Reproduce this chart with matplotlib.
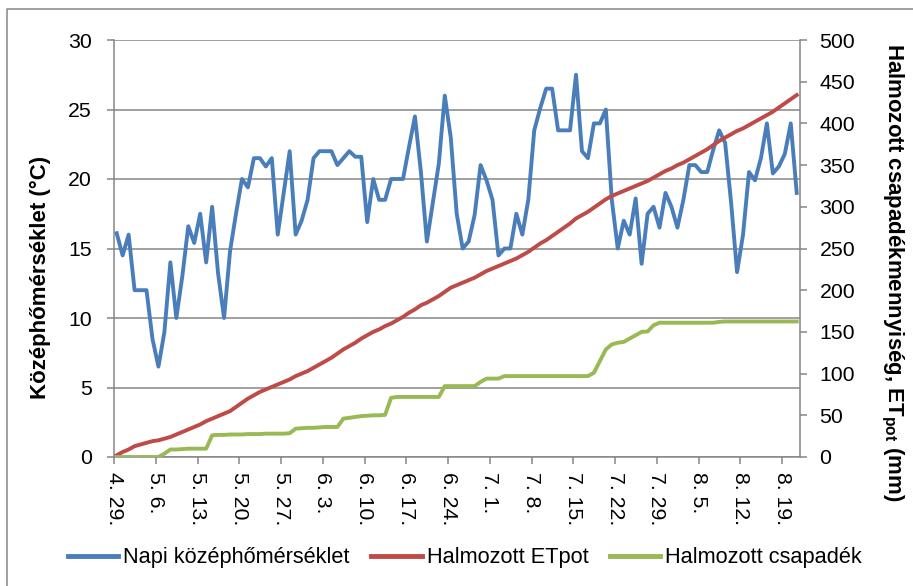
import numpy as np
import matplotlib
matplotlib.use("Agg")
import matplotlib.pyplot as plt
from matplotlib.lines import Line2D

plt.rcParams["font.family"] = ["Liberation Sans", "DejaVu Sans"]
plt.rcParams["mathtext.fontset"] = "custom"
plt.rcParams["mathtext.rm"] = "Liberation Sans"
plt.rcParams["mathtext.bf"] = "Liberation Sans:bold"

# napi adatok, 4.29-tol kezdve
napi_homerseklet = [
    16.1, 14.5, 16.0, 12.0, 12.0, 12.0, 8.5, 6.5, 9.0, 14.0,
    10.0, 13.0, 16.6, 15.4, 17.5, 14.0, 18.0, 13.2, 10.0, 14.8,
    17.5, 20.0, 19.4, 21.5, 21.5, 20.9, 21.5, 16.0, 19.0, 22.0,
    16.0, 17.0, 18.5, 21.5, 22.0, 22.0, 22.0, 21.0, 21.5, 22.0,
    21.6, 21.6, 16.9, 20.0, 18.5, 18.5, 20.0, 20.0, 20.0, 22.3,
    24.5, 20.5, 15.5, 18.3, 21.1, 26.0, 23.0, 17.5, 15.0, 15.5,
    17.4, 21.0, 19.9, 18.5, 14.5, 15.0, 15.0, 17.5, 16.0, 18.5,
    23.5, 25.1, 26.5, 26.5, 23.5, 23.5, 23.5, 27.5, 22.0, 21.5,
    24.0, 24.0, 25.0, 18.5, 15.0, 17.0, 16.0, 18.6, 13.9, 17.5,
    18.0, 16.5, 19.0, 18.0, 16.5, 18.5, 21.0, 21.0, 20.5, 20.5,
    22.1, 23.5, 22.6, 18.3, 13.3, 16.0, 20.5, 19.9, 21.5, 24.0,
    20.4, 20.9, 21.8, 24.0, 19.0,
]

halmozott_etpot = [
    2, 6, 9, 13, 15, 17, 19, 20, 22, 24,
    27, 30, 33, 36, 39, 43, 46, 49, 52, 55,
    60, 65, 70, 74, 78, 81, 84, 87, 90, 93,
    97, 100, 103, 107, 111, 115, 119, 124, 129, 133,
    137, 142, 146, 150, 153, 157, 160, 164, 168, 173,
    177, 182, 185, 189, 193, 198, 203, 206, 209, 212,
    215, 219, 223, 226, 229, 232, 235, 238, 242, 246,
    251, 256, 260, 265, 270, 275, 280, 286, 290, 294,
    299, 304, 309, 313, 316, 319, 322, 325, 328, 331,
    335, 339, 343, 346, 350, 353, 357, 361, 365, 369,
    374, 379, 383, 387, 391, 394, 398, 402, 406, 410,
    414, 419, 424, 429, 434,
]

halmozott_csapadek = [
    0, 0, 0, 0, 0, 0, 0, 0, 4, 9,
    9, 9.5, 10, 10, 10, 10, 26, 26.5, 26.5, 27,
    27, 27, 27.5, 27.5, 27.5, 28, 28, 28, 28, 28.5,
    34, 34.5, 35, 35, 35.5, 36, 36, 36, 46, 47,
    48, 49, 49.5, 50, 50, 50.5, 71, 72, 72, 72,
    72, 72, 72, 72, 72, 85, 85, 85, 85, 85,
    85, 90, 94, 94, 94, 97, 97, 97, 97, 97,
    97, 97, 97, 97, 97, 97, 97, 97, 97, 97,
    101, 115, 129, 135, 137, 138, 142, 146, 150, 150.5,
    158, 161, 161, 161, 161, 161, 161, 161, 161, 161,
    161, 162, 162.5, 162.5, 162.5, 162.5, 162.5, 162.5, 162.5, 162.5,
    162.5, 162.5, 162.5, 162.5, 162.5,
]

datum_cimkek = ["4. 29.", "5. 6.", "5. 13.", "5. 20.", "5. 27.", "6. 3.",
                "6. 10.", "6. 17.", "6. 24.", "7. 1.", "7. 8.", "7. 15.",
                "7. 22.", "7. 29.", "8. 5.", "8. 12.", "8. 19."]

kek = "#4A7EBB"
piros = "#BE4B48"
zold = "#98B954"
szurke = "#868686"

napok = np.arange(len(napi_homerseklet)) + 0.45

fig = plt.figure(figsize=(9.13, 5.86), dpi=100)
ax = fig.add_axes([114 / 913, 1 - 457 / 586, 686 / 913, 417 / 586])
ax2 = ax.twinx()

ax.plot(napok, napi_homerseklet, color=kek, lw=2.8, solid_joinstyle="round", zorder=3)
ax2.plot(napok, halmozott_etpot, color=piros, lw=2.8, solid_joinstyle="round")
ax2.plot(napok, halmozott_csapadek, color=zold, lw=2.8, solid_joinstyle="round")

ax.set_xlim(0, 115)
ax.set_ylim(0, 30)
ax2.set_ylim(0, 500)
ax.set_yticks(np.arange(0, 31, 5))
ax2.set_yticks(np.arange(0, 501, 50))
ax.set_xticks(np.arange(0, 7 * len(datum_cimkek), 7))
ax.set_xticklabels(datum_cimkek, rotation=270)

ax.grid(axis="y", color=szurke, lw=1.1)
ax.set_axisbelow(True)
for a in (ax, ax2):
    a.spines["top"].set_visible(False)
    for s in ("left", "right", "bottom"):
        a.spines[s].set_color(szurke)
        a.spines[s].set_linewidth(1.1)
    a.tick_params(axis="both", colors=szurke, labelcolor="black", length=5,
                  width=1.1, labelsize=15.3)
ax.spines["right"].set_visible(False)
ax2.spines["left"].set_visible(False)
ax2.spines["bottom"].set_visible(False)
ax.tick_params(axis="y", pad=11)
ax2.tick_params(axis="y", pad=9)
ax.tick_params(axis="x", pad=6)

fig.text(40 / 913, 1 - 277 / 586, "Középhőmérséklet (°C)", rotation=90,
         fontsize=16, fontweight="bold", ha="center", va="center")
fig.text(892 / 913, 1 - 272 / 586,
         r"Halmozott csapadékmennyiség, ET$_{\mathbf{pot}}$ (mm)", rotation=270,
         fontsize=16, fontweight="bold", ha="center", va="center")

kezelok = [Line2D([], [], color=kek, lw=3.5),
           Line2D([], [], color=piros, lw=3.5),
           Line2D([], [], color=zold, lw=3.5)]
fig.legend(kezelok, ["Napi középhőmérséklet", "Halmozott ETpot", "Halmozott csapadék"],
           loc="center", bbox_to_anchor=(465 / 913, 1 - 558 / 586), ncol=3,
           frameon=False, fontsize=15.7, handlelength=2.3, handletextpad=0.23,
           columnspacing=1.0)

# diagram kerete
fig.add_artist(Line2D([7 / 913, 7 / 913, 1.0], [0.0, 1 - 9 / 586, 1 - 9 / 586],
                      transform=fig.transFigure, color=szurke, lw=1.1))

fig.savefig("out.png", dpi=100)
